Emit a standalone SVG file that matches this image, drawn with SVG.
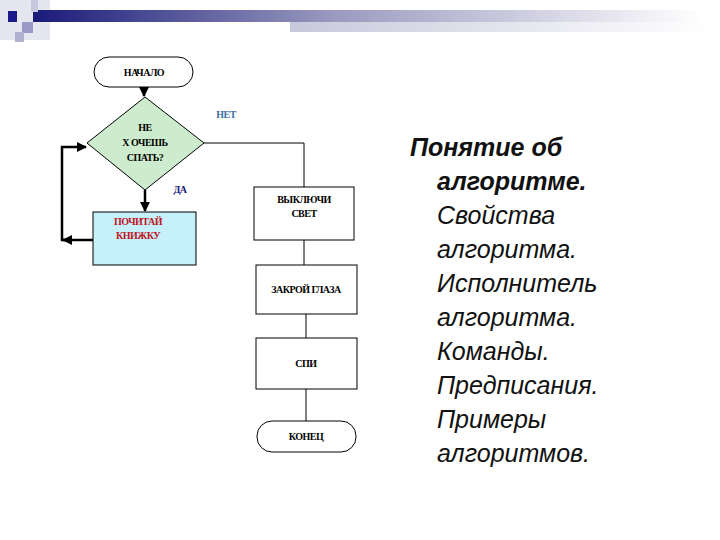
<svg xmlns="http://www.w3.org/2000/svg" width="720" height="540" viewBox="0 0 720 540">
<defs>
<linearGradient id="bar" x1="0" x2="1"><stop offset="0" stop-color="#1a1a7a"/><stop offset="0.45" stop-color="#9a9ac0"/><stop offset="1" stop-color="#ffffff"/></linearGradient>
<linearGradient id="bar2" x1="0" x2="1"><stop offset="0" stop-color="#c8c8dc"/><stop offset="1" stop-color="#ffffff"/></linearGradient>
<marker id="ah" viewBox="0 0 10 10" refX="9" refY="5" markerWidth="4" markerHeight="4" orient="auto"><path d="M0,0 L10,5 L0,10 z" fill="#000"/></marker>
<style>
.b{fill:#fff;stroke:#000;stroke-width:1}
.t{font-family:"Liberation Serif",serif;font-weight:bold;font-size:10px;text-anchor:middle;letter-spacing:-0.5px}
.c{stroke:#000;stroke-width:1;fill:none}
.k{stroke:#000;stroke-width:2.5;fill:none}
.r{font-family:"Liberation Sans",sans-serif;font-style:italic;font-size:25px;fill:#111}
</style>
</defs>
<rect x="0" y="0" width="720" height="540" fill="#fff"/>
<rect x="0" y="0" width="50" height="40" fill="#e6e6f0"/>
<rect x="33" y="10" width="670" height="12" fill="url(#bar)"/>
<rect x="290" y="22" width="420" height="10" fill="url(#bar2)"/>
<rect x="8" y="11" width="9" height="11" fill="#1a1a8a"/>
<rect x="31" y="0" width="7" height="12" fill="#c8c8e0"/>
<rect x="22" y="22" width="11" height="11" fill="#9a9ac8"/>
<rect x="15" y="32" width="9" height="10" fill="#b0b0d0"/>
<g id="connectors">
<path class="k" d="M144 87 V96" marker-end="url(#ah)"/>
<path class="k" d="M145 190 V211" marker-end="url(#ah)"/>
<path class="k" d="M93 240 H62 V147 H86" marker-end="url(#ah)"/>
<path class="k" d="M70 240 H63" marker-end="url(#ah)"/>
<path class="c" d="M204 143 H304 V187"/>
<path class="c" d="M304 240 V265"/>
<path class="c" d="M306 314 V338"/>
<path class="c" d="M306 389 V421"/>
</g>
<g id="start"><rect class="b" x="94" y="57" width="99" height="30" rx="15"/><text class="t" x="144" y="76">НАЧАЛО</text></g>
<g id="decision"><polygon points="145,97 204,143 145,190 87,143" fill="#cdeccd" stroke="#000"/>
<text class="t" x="145" y="131">НЕ</text><text class="t" x="145" y="146">Х ОЧЕШЬ</text><text class="t" x="145" y="161">СПАТЬ?</text></g>
<text class="t" x="226" y="118" fill="#3a6ea5">НЕТ</text>
<text class="t" x="180" y="193" fill="#1a1a80">ДА</text>
<g id="read"><rect x="93" y="212" width="103" height="53" fill="#c6f0fa" stroke="#000"/><text class="t" x="138" y="225" fill="#c0141e">ПОЧИТАЙ</text><text class="t" x="138" y="239" fill="#c0141e">КНИЖКУ</text></g>
<g id="light"><rect class="b" x="254" y="187" width="100" height="53"/><text class="t" x="304" y="203">ВЫКЛЮЧИ</text><text class="t" x="304" y="217">СВЕТ</text></g>
<g id="eyes"><rect class="b" x="256" y="265" width="101" height="49"/><text class="t" x="306" y="293">ЗАКРОЙ ГЛАЗА</text></g>
<g id="sleep"><rect class="b" x="256" y="338" width="101" height="51"/><text class="t" x="306" y="367">СПИ</text></g>
<g id="end"><rect class="b" x="257" y="421" width="99" height="31" rx="15"/><text class="t" x="306" y="440">КОНЕЦ</text></g>
<g id="title">
<text class="r" font-weight="bold" x="410" y="156">Понятие об</text>
<text class="r" font-weight="bold" x="437" y="190">алгоритме.</text>
<text class="r" x="437" y="224">Свойства</text>
<text class="r" x="437" y="258">алгоритма.</text>
<text class="r" x="437" y="292">Исполнитель</text>
<text class="r" x="437" y="326">алгоритма.</text>
<text class="r" x="437" y="360">Команды.</text>
<text class="r" x="437" y="394">Предписания.</text>
<text class="r" x="437" y="428">Примеры</text>
<text class="r" x="437" y="462">алгоритмов.</text>
</g>
</svg>
